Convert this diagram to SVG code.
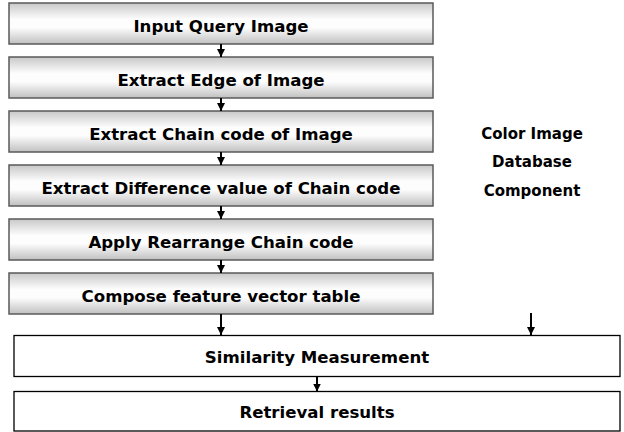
<svg xmlns="http://www.w3.org/2000/svg" width="624" height="432" viewBox="0 0 624 432">
<style>
.step{stroke:#5a5a5a;stroke-width:1.5;fill:url(#g)}
.plain{stroke:#000;stroke-width:1.3;fill:#fff}
.t{font-family:"DejaVu Sans",Verdana,sans-serif;font-weight:bold;fill:#000;text-anchor:middle}
.c line{stroke:#000;stroke-width:2;marker-end:url(#ah)}
</style>
<defs>
<linearGradient id="g" x1="0" y1="0" x2="0" y2="1">
<stop offset="0" stop-color="#c8c8c8"/>
<stop offset="0.4" stop-color="#fdfdfd"/>
<stop offset="0.6" stop-color="#fdfdfd"/>
<stop offset="1" stop-color="#c0c0c0"/>
</linearGradient>
<marker id="ah" viewBox="0 0 10 10" refX="10" refY="5" markerWidth="8" markerHeight="8" markerUnits="userSpaceOnUse" orient="auto">
<path d="M0,0 L10,5 L0,10 z" fill="#000"/>
</marker>
</defs>
<rect width="624" height="432" fill="#fff"/>
<g id="n1"><rect class="step" x="9" y="3" width="424" height="41"/><text class="t" x="221" y="32" font-size="16.6">Input Query Image</text></g>
<g id="n2"><rect class="step" x="9" y="57" width="424" height="41"/><text class="t" x="221" y="86" font-size="16.6">Extract Edge of Image</text></g>
<g id="n3"><rect class="step" x="9" y="111" width="424" height="41"/><text class="t" x="221" y="140" font-size="16.6">Extract Chain code of Image</text></g>
<g id="n4"><rect class="step" x="9" y="165" width="424" height="41"/><text class="t" x="221" y="194" font-size="16.6">Extract Difference value of Chain code</text></g>
<g id="n5"><rect class="step" x="9" y="219" width="424" height="41"/><text class="t" x="221" y="248" font-size="16.6">Apply Rearrange Chain code</text></g>
<g id="n6"><rect class="step" x="9" y="273" width="424" height="41"/><text class="t" x="221" y="302" font-size="16.6">Compose feature vector table</text></g>
<g id="db"><text class="t" x="532" y="139" font-size="15">Color Image</text><text class="t" x="532" y="167" font-size="15">Database</text><text class="t" x="532" y="196" font-size="15">Component</text></g>
<g id="n7"><rect class="plain" x="14" y="335.5" width="606" height="41"/><text class="t" x="317" y="363" font-size="16.6">Similarity Measurement</text></g>
<g id="n8"><rect class="plain" x="14" y="391.5" width="606" height="39.5"/><text class="t" x="317" y="418" font-size="16.6">Retrieval results</text></g>
<g id="connectors" class="c">
<line x1="221" y1="44" x2="221" y2="57"/>
<line x1="221" y1="98" x2="221" y2="111"/>
<line x1="221" y1="152" x2="221" y2="165"/>
<line x1="221" y1="206" x2="221" y2="219"/>
<line x1="221" y1="260" x2="221" y2="273"/>
<line x1="221" y1="314" x2="221" y2="335"/>
<line x1="531" y1="313" x2="531" y2="335"/>
<line x1="317" y1="376.5" x2="317" y2="391.5"/>
</g>
</svg>
